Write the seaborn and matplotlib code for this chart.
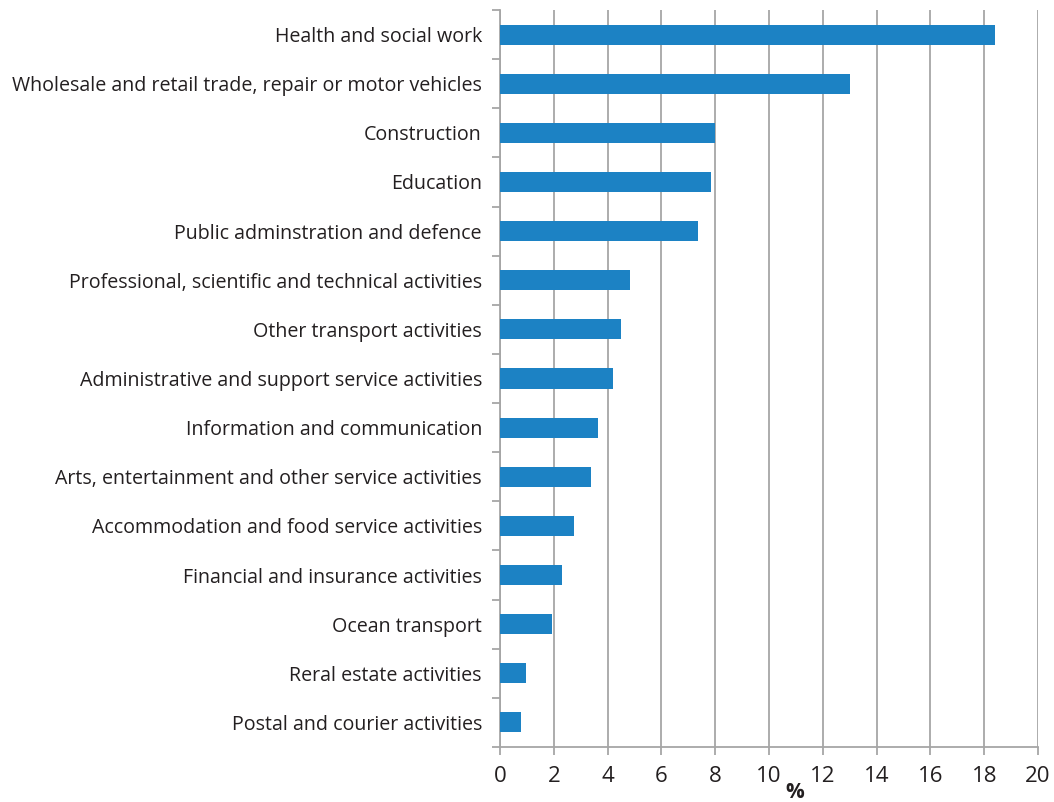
import matplotlib
matplotlib.use("Agg")
import matplotlib.pyplot as plt
import seaborn as sns
import pandas as pd
from matplotlib.ticker import MultipleLocator, FixedLocator

# Share of employment by industry (%)
industries = [
    "Health and social work",
    "Wholesale and retail trade, repair or motor vehicles",
    "Construction",
    "Education",
    "Public adminstration and defence",
    "Professional, scientific and technical activities",
    "Other transport activities",
    "Administrative and support service activities",
    "Information and communication",
    "Arts, entertainment and other service activities",
    "Accommodation and food service activities",
    "Financial and insurance activities",
    "Ocean transport",
    "Reral estate activities",
    "Postal and courier activities",
]
shares = [18.4, 13.0, 8.0, 7.85, 7.35, 4.85, 4.5, 4.2, 3.65, 3.4, 2.75, 2.3, 1.95, 0.95, 0.78]

df = pd.DataFrame({"industry": industries, "share": shares})

sns.set_theme(style="white")
plt.rcParams["font.family"] = ["Open Sans", "DejaVu Sans"]

text_color = "#231f20"
grid_color = "#a6a6a6"

fig = plt.figure(figsize=(10.54, 8.02), dpi=100)
ax = fig.add_axes([0.4744, 0.0686, 0.5105, 0.9189])

sns.barplot(data=df, x="share", y="industry", color="#1c82c4",
            width=0.41, saturation=1, linewidth=0, ax=ax, zorder=3)

ax.set_xlim(0, 20)
ax.set_ylim(len(industries) - 0.5, -0.5)
ax.xaxis.set_major_locator(MultipleLocator(2))
ax.grid(axis="x", color=grid_color, linewidth=1.3, zorder=0)
ax.grid(axis="y", visible=False)

for side in ("top", "right"):
    ax.spines[side].set_visible(False)
for side in ("left", "bottom"):
    ax.spines[side].set_color(grid_color)
    ax.spines[side].set_linewidth(1.3)

# y ticks: labels centred on bars, tick marks on category boundaries
ax.set_yticks(range(len(industries)))
ax.set_yticklabels(industries)
ax.yaxis.set_minor_locator(FixedLocator([i - 0.5 for i in range(len(industries) + 1)]))
ax.tick_params(axis="y", which="major", length=0, pad=13, labelsize=14.1, labelcolor=text_color)
ax.tick_params(axis="y", which="minor", left=True, length=6, width=1.3, color=grid_color)
ax.tick_params(axis="x", which="major", bottom=True, length=6, width=1.3, color=grid_color,
               labelsize=16, labelcolor=text_color, pad=8)

ax.set_ylabel("")
ax.set_xlabel("%", fontsize=15, fontweight="bold", color=text_color)
ax.xaxis.set_label_coords(0.548, -0.048)

fig.savefig("out.png", dpi=100)
